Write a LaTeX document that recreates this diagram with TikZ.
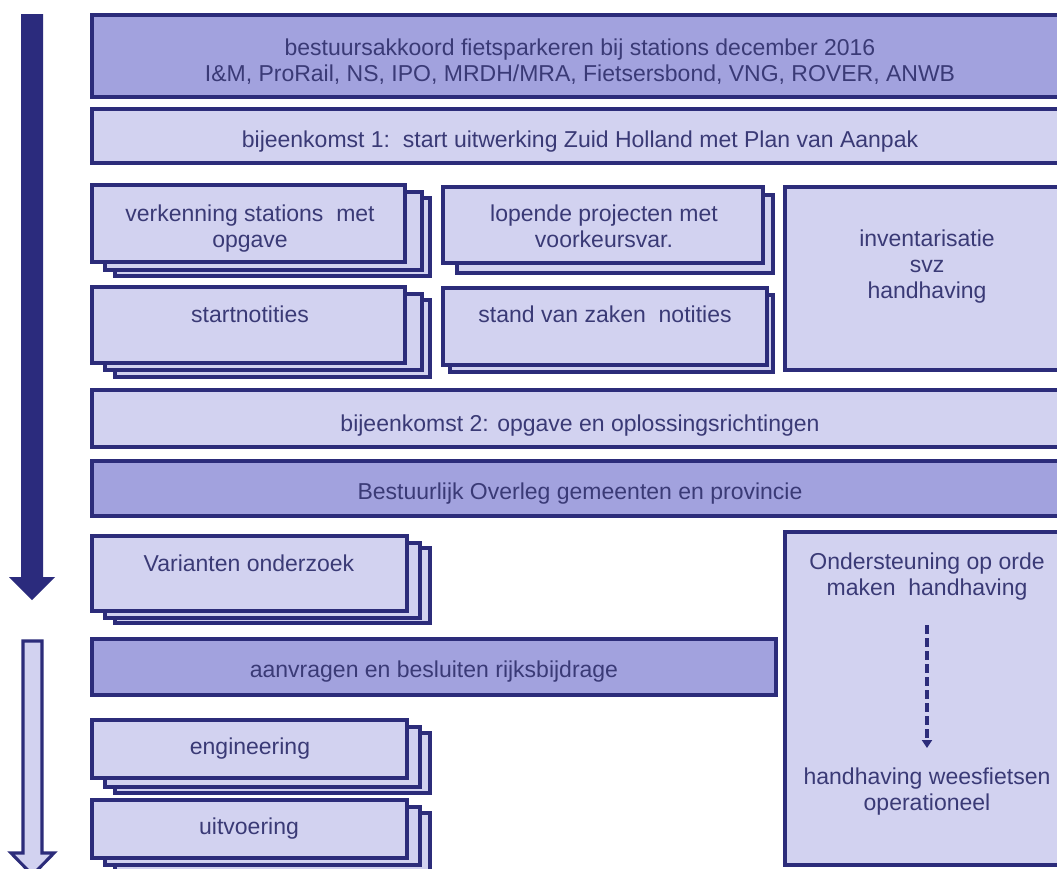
\documentclass[tikz,border=0pt]{standalone}
\usepackage{fontspec}
\setmainfont{Liberation Sans}
\usetikzlibrary{arrows.meta,fit}
\definecolor{navy}{RGB}{44,44,122}
\definecolor{darkfill}{RGB}{162,162,222}
\definecolor{lightfill}{RGB}{210,210,240}
\definecolor{txtcol}{RGB}{58,58,118}
\definecolor{arrowfill}{RGB}{43,43,125}
\newcommand\boxnode[6]{%
  \path (#3,#4) coordinate (#2-nw) (#5,#6) coordinate (#2-se);
  \node[#1, fit=(#2-nw)(#2-se), inner sep=0pt] (#2) {};}
\begin{document}
\begin{tikzpicture}[x=1pt,y=-1pt,
  boxbase/.style={draw=navy, line width=3.1pt, line join=miter},
  lightbox/.style={boxbase, fill=lightfill},
  darkbox/.style={boxbase, fill=darkfill},
  txt/.style={text=txtcol, align=center, inner sep=0pt, font=\fontsize{23}{26}\selectfont},
  dasharrow/.style={draw=navy, line width=3.5pt, dash pattern=on 9pt off 4pt, -{Triangle[width=10pt,length=8pt]}}
]
\useasboundingbox (0,0) rectangle (1057,868);
\fill[white] (0,0) rectangle (1057,868);

% left arrows
\fill[arrowfill] (21,14) -- (43,14) -- (43,577) -- (55,577) -- (32,600) -- (9,577) -- (21,577) -- cycle;
\draw[lightbox] (23,641) -- (42,641) -- (42,853) -- (54,853) -- (32.5,875) -- (11,853) -- (23,853) -- cycle;

% full-width top boxes
\boxnode{darkbox}{akkoord}{92}{15}{1068}{97}
\node[txt] (akkoordT) at (580,63) {\strut bestuursakkoord fietsparkeren bij stations december 2016\\\strut I\&M,  ProRail, NS, IPO,  MRDH/MRA,  Fietsersbond, VNG, ROVER,  ANWB};
\boxnode{lightbox}{bij1}{92}{109}{1068}{163}
\node[txt] (bij1T) at (580,142.6) {\strut bijeenkomst 1:\ \ start uitwerking Zuid Holland met Plan van Aanpak};

% stack: verkenning
\draw[lightbox] (115,198) rectangle (430,276);
\draw[lightbox] (105,192) rectangle (422,270);
\boxnode{lightbox}{verk}{92}{185}{405}{262}
\node[txt] (verkT) at (250,229.6) {\strut verkenning stations\ \ met\\\strut opgave};

% stack: startnotities
\draw[lightbox] (115,300) rectangle (430,377);
\draw[lightbox] (105,294) rectangle (422,370);
\boxnode{lightbox}{start}{92}{287}{405}{363}
\node[txt] (startT) at (250,317.6) {\strut startnotities};

% stack: lopende
\draw[lightbox] (457,195) rectangle (773,273);
\boxnode{lightbox}{lop}{443}{187}{763}{263}
\node[txt] (lopT) at (604,229.6) {\strut lopende projecten met\\\strut voorkeursvar.};

% stack: stand van zaken
\draw[lightbox] (450,295) rectangle (773,372);
\boxnode{lightbox}{stand}{443}{288}{767}{365}
\node[txt] (standT) at (605,317.6) {\strut stand van zaken\ \ notities};

% inventarisatie
\boxnode{lightbox}{inv}{785}{187}{1068}{370}
\node[txt] (invT) at (927,267.6) {\strut inventarisatie\\\strut svz\\\strut handhaving};

% bijeenkomst 2, bestuurlijk overleg
\boxnode{lightbox}{bij2}{92}{390}{1068}{447}
\node[txt] (bij2T) at (580,426.6) {\strut bijeenkomst 2: opgave en oplossingsrichtingen};
\boxnode{darkbox}{bo}{92}{461}{1068}{516}
\node[txt] (boT) at (580,494.6) {\strut Bestuurlijk Overleg gemeenten en provincie};

% varianten
\draw[lightbox] (115,548) rectangle (430,623);
\draw[lightbox] (105,543) rectangle (420,618);
\boxnode{lightbox}{var}{92}{536}{407}{611}
\node[txt] (varT) at (249,566.6) {\strut Varianten onderzoek};

% aanvragen
\boxnode{darkbox}{aanv}{92}{639}{776}{695}
\node[txt] (aanvT) at (434,672.6) {\strut aanvragen en besluiten rijksbijdrage};

% engineering
\draw[lightbox] (115,733) rectangle (430,793);
\draw[lightbox] (105,727) rectangle (420,787);
\boxnode{lightbox}{eng}{92}{720}{407}{778}
\node[txt] (engT) at (250,749.6) {\strut engineering};

% uitvoering
\draw[lightbox] (115,813) rectangle (430,872);
\draw[lightbox] (105,807) rectangle (420,865);
\boxnode{lightbox}{uit}{92}{800}{407}{858}
\node[txt] (uitT) at (249,829.6) {\strut uitvoering};

% ondersteuning
\boxnode{lightbox}{ond}{785}{532}{1068}{865}
\node[txt] (ondT) at (927,577.6) {\strut Ondersteuning op orde\\\strut maken\ \ handhaving};
\node[txt] (wees) at (927,792) {\strut handhaving weesfietsen\\\strut operationeel};
\coordinate (dA) at (927,625);
\coordinate (dB) at (927,748);
\draw[dasharrow] (dA) -- (dB);
\end{tikzpicture}
\end{document}
